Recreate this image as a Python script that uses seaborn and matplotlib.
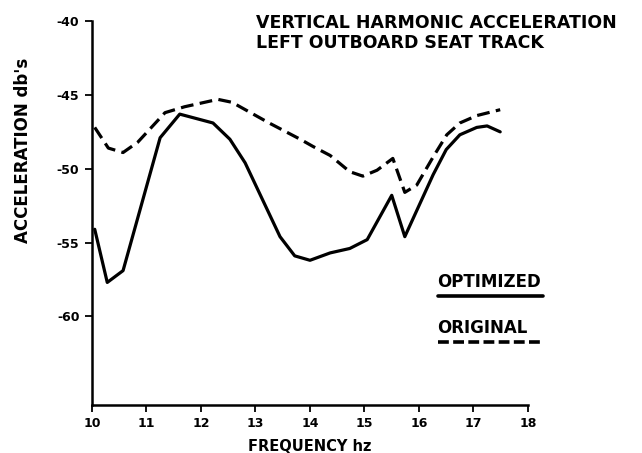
import matplotlib
matplotlib.use("Agg")
import matplotlib.pyplot as plt
from matplotlib.lines import Line2D
import numpy as np
import pandas as pd
import seaborn as sns

# Frequency (hz) and acceleration (db's) for the optimized design
opt_freq = [10.05, 10.28, 10.57, 11.25, 11.61, 12.22, 12.53, 12.81, 13.45, 13.72,
            14.00, 14.37, 14.73, 15.05, 15.50, 15.74, 16.26, 16.50, 16.75, 17.06,
            17.25, 17.49]
opt_acc = [-54.1, -57.7, -56.9, -47.9, -46.3, -46.9, -48.0, -49.6, -54.6, -55.9,
           -56.2, -55.7, -55.4, -54.8, -51.8, -54.6, -50.4, -48.7, -47.7, -47.2,
           -47.1, -47.5]

# Frequency (hz) and acceleration (db's) for the original design
orig_freq = [10.05, 10.30, 10.57, 10.84, 11.34, 11.70, 12.31, 12.57, 13.25, 13.82,
             14.06, 14.37, 14.73, 14.97, 15.23, 15.52, 15.74, 15.96, 16.26, 16.51,
             16.75, 17.06, 17.49]
orig_acc = [-47.2, -48.6, -48.9, -48.2, -46.2, -45.8, -45.3, -45.5, -46.9, -48.0,
            -48.5, -49.1, -50.2, -50.5, -50.1, -49.3, -51.6, -51.1, -49.2, -47.7,
            -46.9, -46.4, -46.0]

x_ticks = [10, 11, 12, 13, 14, 15, 16, 17, 18]
y_ticks = [-40, -45, -50, -55, -60]

series_names = ["OPTIMIZED", "ORIGINAL"]

df = pd.concat([
    pd.DataFrame({"freq": opt_freq, "acc": opt_acc, "design": series_names[0]}),
    pd.DataFrame({"freq": orig_freq, "acc": orig_acc, "design": series_names[1]}),
], ignore_index=True)

sns.set_style("ticks")
plt.rcParams["font.family"] = ["DejaVu Sans"]
plt.rcParams["text.color"] = "black"
plt.rcParams["axes.labelcolor"] = "black"
plt.rcParams["xtick.color"] = "black"
plt.rcParams["ytick.color"] = "black"

fig = plt.figure(figsize=(6.42, 4.53), dpi=100)
ax = fig.add_axes([0.1433, 0.106, 0.6791, 0.8474])

dash = (4.0, 2.0)
sns.lineplot(data=df, x="freq", y="acc", hue="design", style="design",
             palette={"OPTIMIZED": "black", "ORIGINAL": "black"},
             dashes={"OPTIMIZED": "", "ORIGINAL": dash},
             linewidth=2.3, sort=False, estimator=None, legend=False, ax=ax)

ax.set_xlim(10, 18)
ax.set_ylim(-66, -40)
ax.set_xticks(x_ticks)
ax.set_yticks(y_ticks)
ax.set_xticklabels([str(t) for t in x_ticks], fontweight="bold", fontsize=9)
ax.set_yticklabels([str(t) for t in y_ticks], fontweight="bold", fontsize=9)
ax.tick_params(axis="both", direction="out", length=5, width=1.3, color="black",
               labelcolor="black", pad=4)

for side in ("top", "right"):
    ax.spines[side].set_visible(False)
for side in ("left", "bottom"):
    ax.spines[side].set_linewidth(1.8)
    ax.spines[side].set_color("black")

ax.set_xlabel("FREQUENCY hz", fontweight="bold", fontsize=10.5)
ax.xaxis.set_label_coords(0.5, -0.088)
ax.set_ylabel("ACCELERATION db's", fontweight="bold", fontsize=12)
ax.yaxis.set_label_coords(-0.138, 0.664)

# Title block
fig.text(0.399, 0.970, "VERTICAL HARMONIC ACCELERATION\nLEFT OUTBOARD SEAT TRACK",
         ha="left", va="top", fontsize=12.5, fontweight="bold", linespacing=1.15)

# Hand-placed key
fig.text(0.681, 0.377, "OPTIMIZED", ha="left", va="center", fontsize=12, fontweight="bold")
fig.add_artist(Line2D([0.682, 0.846], [0.346, 0.346], color="black", lw=2.6,
                      transform=fig.transFigure))
fig.text(0.681, 0.276, "ORIGINAL", ha="left", va="center", fontsize=12, fontweight="bold")
fig.add_artist(Line2D([0.682, 0.846], [0.245, 0.245], color="black", lw=2.6,
                      linestyle=(0, (3.0, 1.2)), transform=fig.transFigure))

fig.savefig("out.png", dpi=100, facecolor="white")
